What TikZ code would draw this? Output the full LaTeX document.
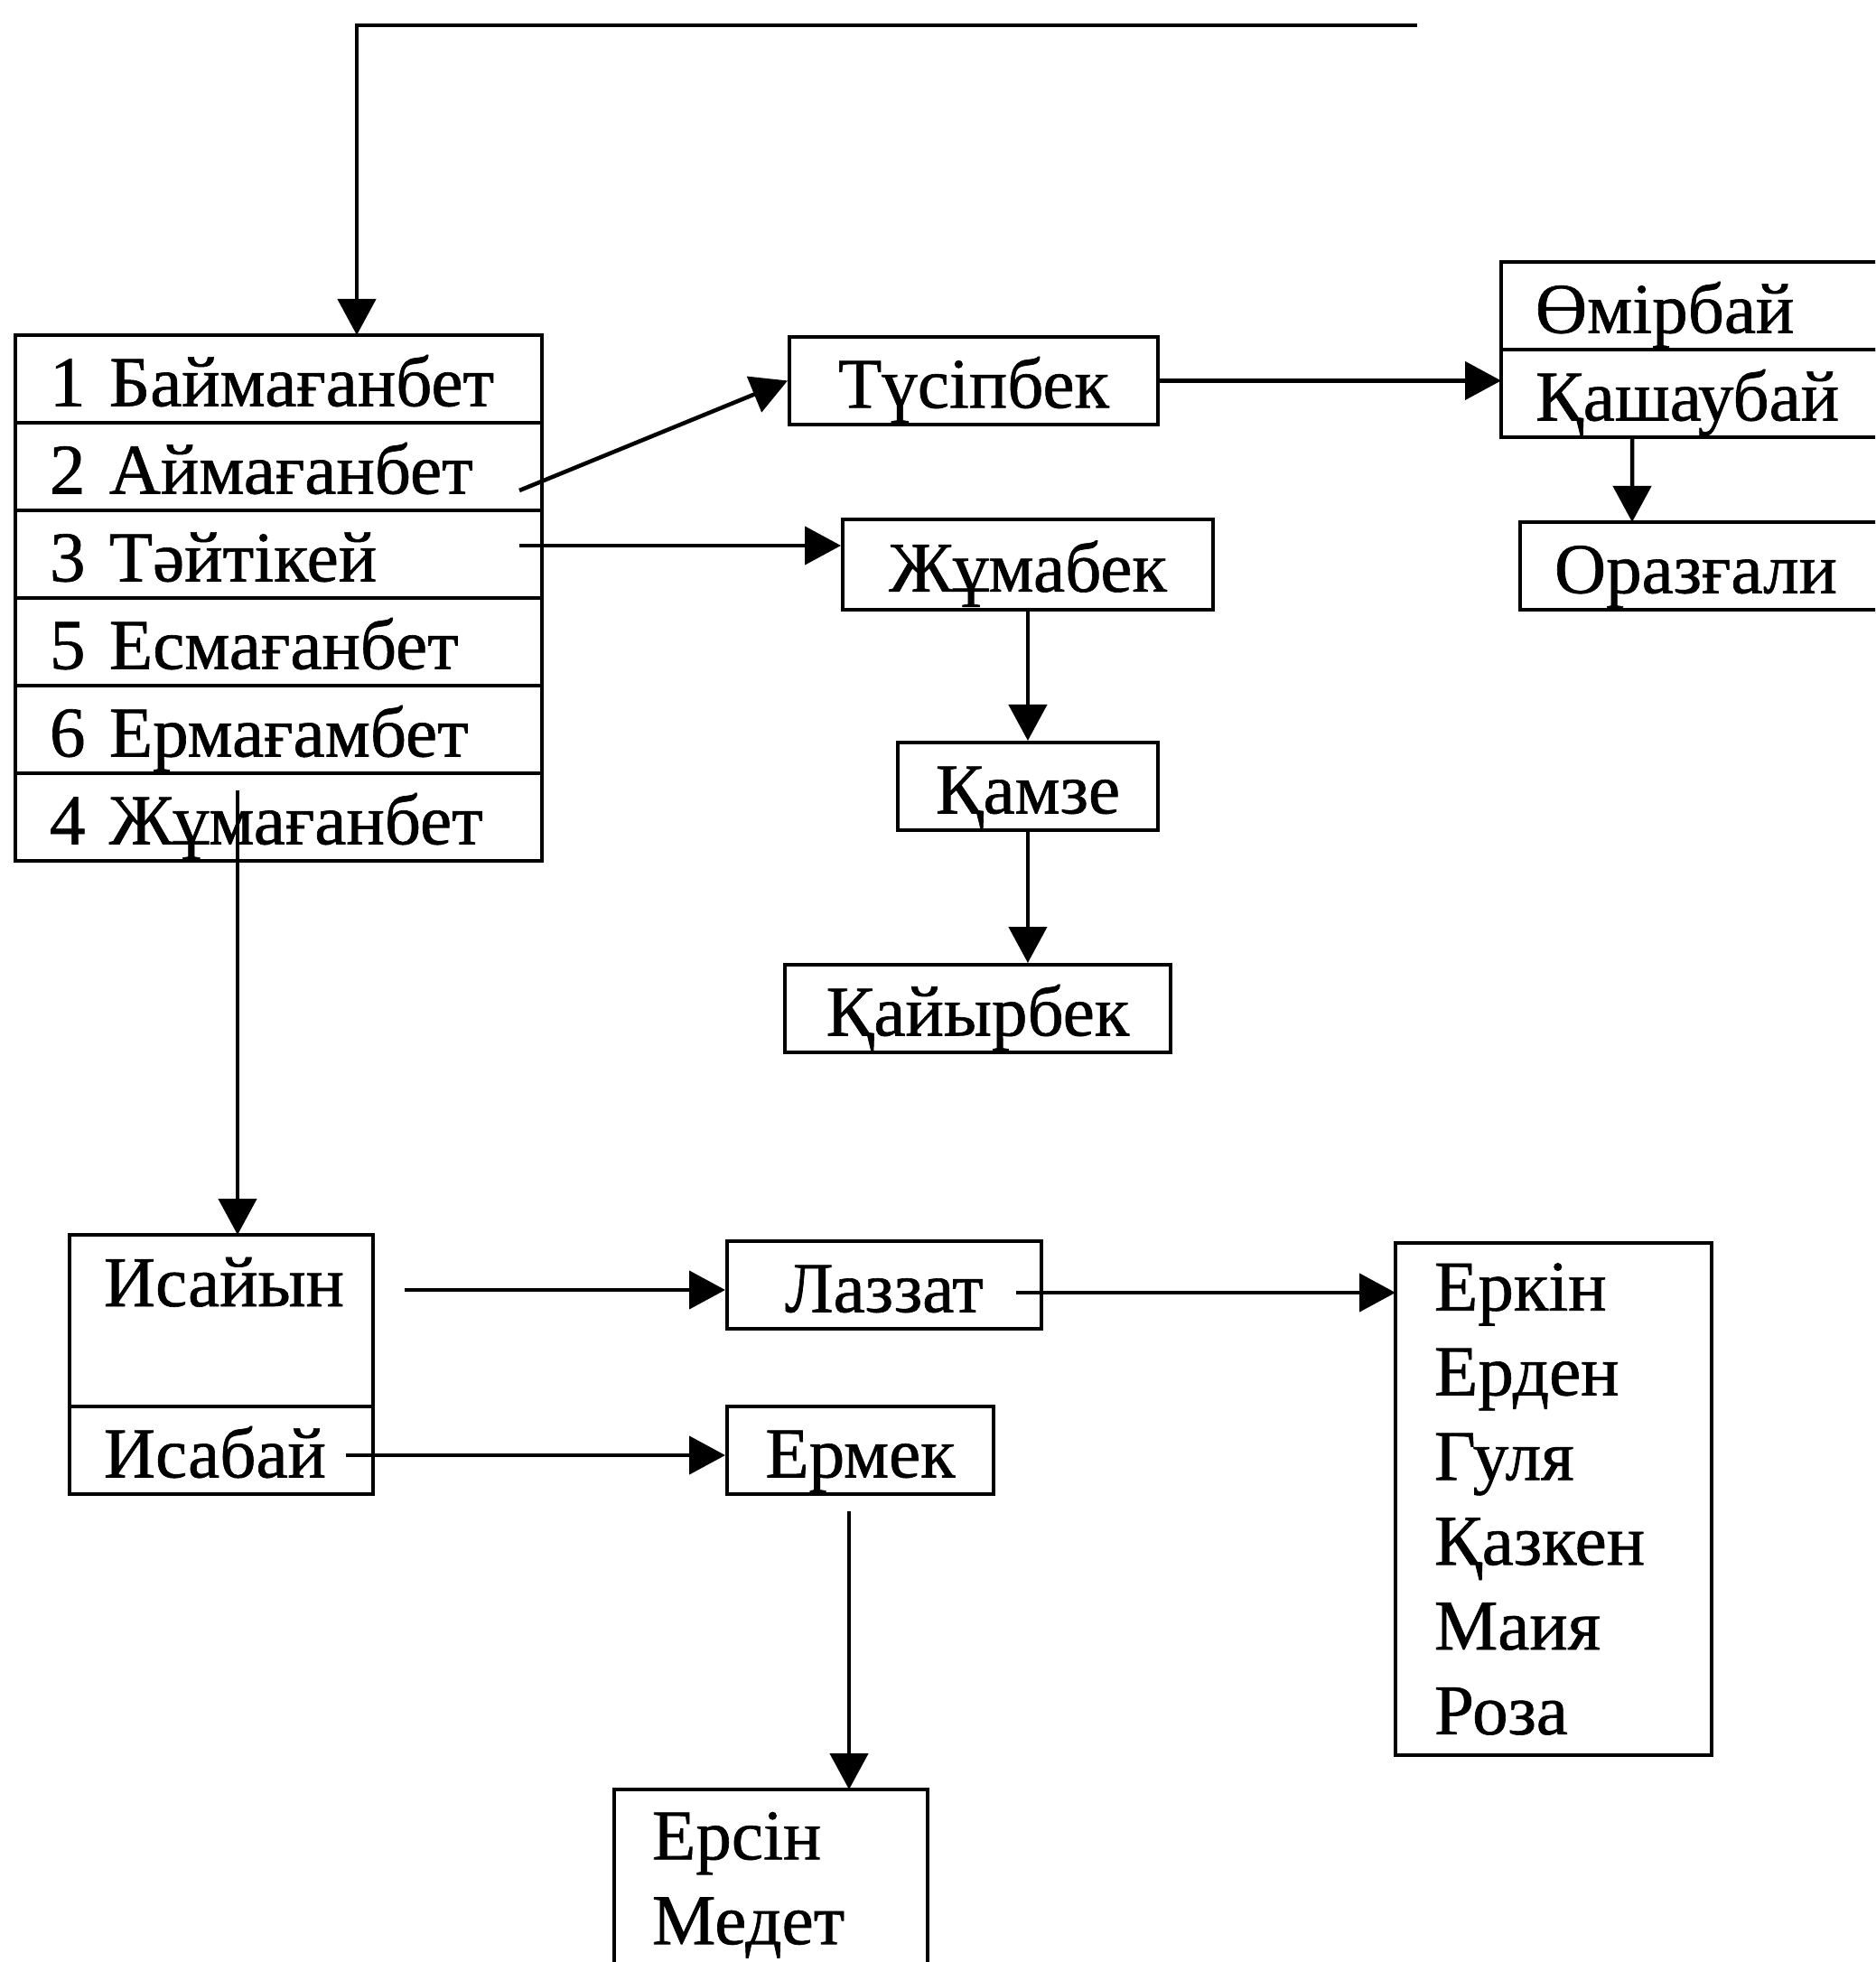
\documentclass[tikz,border=0pt]{standalone}
\usepackage{fontspec}
\setmainfont[FakeBold=0.8]{Liberation Serif}
\usetikzlibrary{arrows.meta,positioning}

\newcommand\namefont{\fontsize{22.5pt}{26.7pt}\selectfont}

\begin{document}
\begin{tikzpicture}[
  every node/.style={font=\namefont},
  namebox/.style={draw,line width=1.1pt,anchor=north west,inner sep=0pt,text height=6.0mm,text depth=0pt,minimum height=9.7mm,minimum width=#1},
  listbox/.style={draw,line width=1.1pt,anchor=north west,inner ysep=0pt,inner xsep=3.8mm,outer sep=0pt,text width=#1,align=left},
  rowbox/.style={listbox=#1,text height=6.0mm,text depth=0pt,minimum height=9.7mm},
  link/.style={line width=1.3pt,-{Triangle[length=4mm,width=4.2mm]}}
]
  \useasboundingbox (0,0) rectangle (20.76,-21.72);
  \clip (0,0) rectangle (20.76,-21.72);

  \node[rowbox=5.07cm] (r1) at (0.17,-3.71) {1 Баймағанбет};
  \node[rowbox=5.07cm,below=0pt of r1] (r2) {2 Аймағанбет};
  \node[rowbox=5.07cm,below=0pt of r2] (r3) {3 Тәйтікей};
  \node[rowbox=5.07cm,below=0pt of r3] (r4) {5 Есмағанбет};
  \node[rowbox=5.07cm,below=0pt of r4] (r5) {6 Ермағамбет};
  \node[rowbox=5.07cm,below=0pt of r5] (r6) {4 Жұмағанбет};

  \node[namebox=4.08cm] (tus) at (8.72,-3.71) {Түсіпбек};
  \node[rowbox=4.24cm] (omir) at (16.62,-2.90) {Өмірбай};
  \node[rowbox=4.24cm,below=0pt of omir] (kash) {Қашаубай};
  \node[rowbox=4.24cm] (oraz) at (16.83,-5.78) {Оразғали};

  \node[namebox=4.10cm,minimum height=10mm] (jum) at (9.31,-5.73) {Жұмабек};
  \node[namebox=2.88cm] (kamze) at (9.92,-8.20) {Қамзе};
  \node[namebox=4.27cm] (kai) at (8.67,-10.66) {Қайырбек};

  \node[rowbox=2.60cm,minimum height=19mm,text depth=9.2mm] (isayin) at (0.77,-13.67) {Исайын};
  \node[rowbox=2.60cm,below=0pt of isayin] (isabay) {Исабай};
  \node[namebox=3.48cm] (laz) at (8.03,-13.72) {Лаззат};
  \node[namebox=2.95cm] (erm) at (8.03,-15.55) {Ермек};
  \node[listbox=2.64cm,inner xsep=4.3mm,minimum height=56.7mm] (erkin) at (15.45,-13.76) {Еркін\\Ерден\\Гуля\\Қазкен\\Маия\\Роза};
  \node[listbox=2.63cm,inner xsep=4.2mm,inner ysep=2.5mm] (ersin) at (6.80,-19.81) {Ерсін\\Медет};

  \coordinate (topR) at (15.69,-0.28);
  \coordinate (topL) at (3.95,-0.28);
  \draw[link] (topR) -- (topL) -- (topL |- r1.north);

  \coordinate (a2) at (5.75,-5.43);
  \draw[link] (a2) -- (tus.west);
  \coordinate (a3) at (5.75,-6.04);
  \draw[link] (a3) -- (a3 -| jum.west);
  \draw[link] (tus.east) -- (tus.east -| kash.west);
  \draw[link] ([xshift=1.45cm]kash.south west) -- ([xshift=1.24cm]oraz.north west);
  \draw[link] (jum.south) -- (kamze.north);
  \draw[link] (kamze.south) -- (kamze.south |- kai.north);

  \coordinate (a6) at (2.63,-8.75);
  \draw[link] (a6) -- (a6 |- isayin.north);
  \coordinate (a7) at (4.48,-14.28);
  \draw[link] (a7) -- (a7 -| laz.west);
  \coordinate (a8) at (11.25,-14.31);
  \draw[link] (a8) -- (a8 -| erkin.west);
  \coordinate (a9) at (3.83,-16.11);
  \draw[link] (a9) -- (a9 -| erm.west);
  \coordinate (a10) at (9.40,-16.73);
  \draw[link] (a10) -- (a10 |- ersin.north);
\end{tikzpicture}
\end{document}
